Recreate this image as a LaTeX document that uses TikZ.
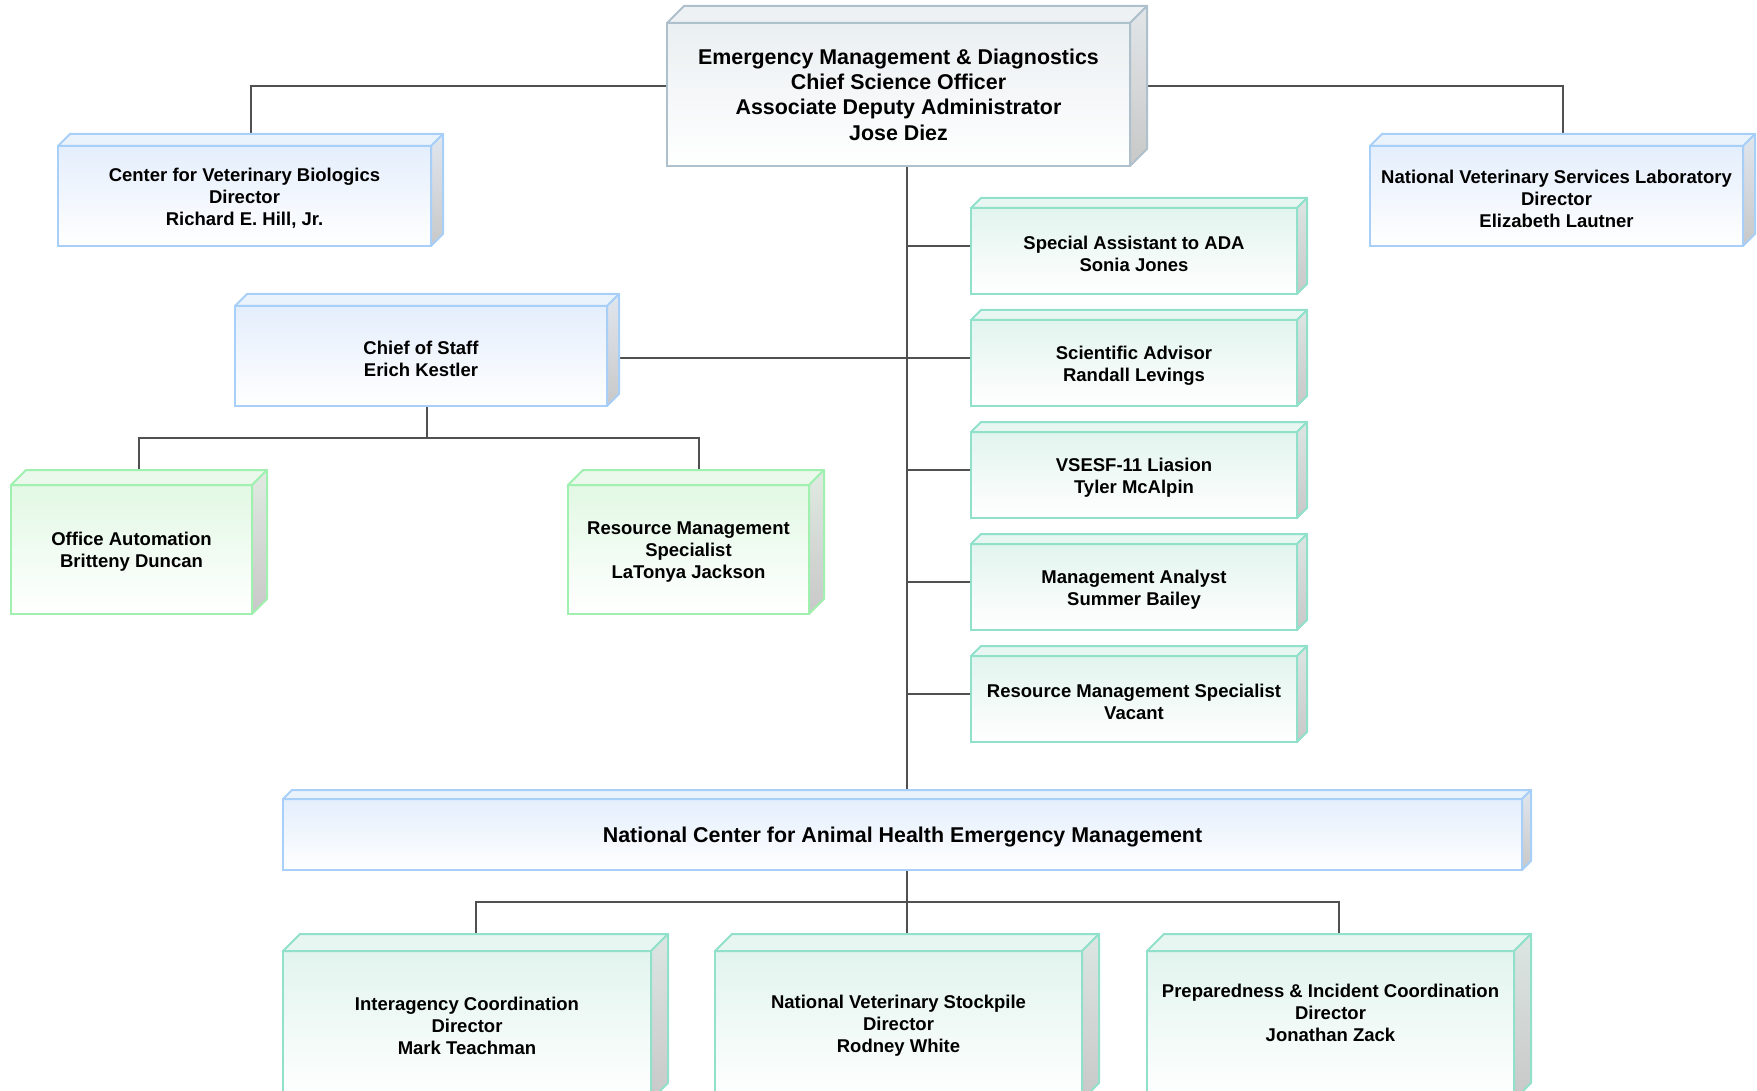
\documentclass[tikz,border=0pt]{standalone}
\usepackage{fontspec}
\setmainfont{Liberation Sans}
\usetikzlibrary{fit,calc}
\pgfdeclarelayer{bg}
\pgfsetlayers{bg,main}
\definecolor{gryB}{HTML}{AEC0CC}
\definecolor{gryF}{HTML}{EAEFF1}
\definecolor{gryT}{HTML}{EEF1F3}
\definecolor{gryS}{HTML}{E2E6E9}
\definecolor{bluB}{HTML}{A8CFF8}
\definecolor{bluF}{HTML}{E4EEFC}
\definecolor{bluT}{HTML}{EAF2FC}
\definecolor{bluS}{HTML}{E0E6EE}
\definecolor{grnB}{HTML}{A0F0B0}
\definecolor{grnF}{HTML}{E2F8E4}
\definecolor{grnT}{HTML}{EAF9EC}
\definecolor{grnS}{HTML}{E0EAE2}
\definecolor{teaB}{HTML}{90E0CA}
\definecolor{teaF}{HTML}{E2F4EE}
\definecolor{teaT}{HTML}{E8F6F2}
\definecolor{teaS}{HTML}{DCE6E2}
\definecolor{sideD}{HTML}{C8C8C8}
\definecolor{connC}{HTML}{505050}
\tikzset{
  txt/.style={align=center, font=\bfseries\fontsize{18.5}{22}\selectfont, text=black, inner sep=0pt},
  bigtxt/.style={font=\bfseries\fontsize{21.4}{25.4}\selectfont},
  lower/.style={yshift=-2.5pt},
  link/.style={draw=connC, line width=2pt}
}
% #1 name, #2 scheme, #3 x front-left, #4 y back-top, #5 x back-right, #6 y front-bottom, #7 depth, #8 text options, #9 text
\newcommand\cuboid[9]{%
  \node[fit={(#3,#4) (#5,#6)}, inner sep=0pt, outer sep=0pt] (#1) {};
  \shadedraw[draw=#2B, line width=2pt, top color=#2F, bottom color=white] (#3,{#4+#7}) rectangle ({#5-#7},#6);
  \filldraw[draw=#2B, line width=2pt, fill=#2T, line join=round] (#3,{#4+#7}) -- ({#3+#7},#4) -- (#5,#4) -- ({#5-#7},{#4+#7}) -- cycle;
  \shadedraw[draw=#2B, line width=2pt, top color=#2S, bottom color=sideD, line join=round] ({#5-#7},{#4+#7}) -- (#5,#4) -- (#5,{#6-#7}) -- ({#5-#7},#6) -- cycle;
  \node[txt, #8] (#1-t) at ({(#3+#5-#7)/2},{(#4+#7+#6)/2}) {#9};
}
\begin{document}
\begin{tikzpicture}[x=1pt,y=-1pt]
\useasboundingbox (0,0) rectangle (1757,1091);
\clip (0,0) rectangle (1757,1091);

\cuboid{ada}{gry}{667}{6}{1147}{166}{17}{bigtxt}{Emergency Management \& Diagnostics\\Chief Science Officer\\Associate Deputy Administrator\\Jose Diez}
\cuboid{cvb}{blu}{58}{134}{443}{246}{12}{lower}{Center for Veterinary Biologics\\Director\\Richard E. Hill, Jr.}
\cuboid{nvsl}{blu}{1370}{134}{1755}{246}{12}{lower}{National Veterinary Services Laboratory\\Director\\Elizabeth Lautner}
\cuboid{cos}{blu}{235}{294}{619}{406}{12}{lower}{Chief of Staff\\Erich Kestler}
\cuboid{oa}{grn}{11}{470}{267}{614}{15}{lower}{Office Automation\\Britteny Duncan}
\cuboid{rms}{grn}{568}{470}{824}{614}{15}{lower}{Resource Management\\Specialist\\LaTonya Jackson}
\cuboid{sa}{tea}{971}{198}{1307}{294}{10}{lower}{Special Assistant to ADA\\Sonia Jones}
\cuboid{sci}{tea}{971}{310}{1307}{406}{10}{lower}{Scientific Advisor\\Randall Levings}
\cuboid{vs}{tea}{971}{422}{1307}{518}{10}{lower}{VSESF-11 Liasion\\Tyler McAlpin}
\cuboid{ma}{tea}{971}{534}{1307}{630}{10}{lower}{Management Analyst\\Summer Bailey}
\cuboid{rm}{tea}{971}{646}{1307}{742}{10}{lower}{Resource Management Specialist\\Vacant}
\cuboid{ncahem}{blu}{283}{790}{1531}{870}{9}{bigtxt,lower}{National Center for Animal Health Emergency Management}
\cuboid{ic}{tea}{283}{934}{668}{1100}{17}{}{Interagency Coordination\\Director\\Mark Teachman}
\cuboid{nvs}{tea}{715}{934}{1099}{1100}{17}{}{National Veterinary Stockpile\\Director\\Rodney White}
\cuboid{pic}{tea}{1147}{934}{1531}{1100}{17}{yshift=12.5pt}{Preparedness \& Incident Coordination\\Director\\Jonathan Zack}

\begin{pgfonlayer}{bg}
  \coordinate (cbus) at ($(cos.south)+(0,32)$);
  \coordinate (nbus) at ($(ncahem.south)+(0,32)$);
  \coordinate (rmsin) at ($(rms)+(3,0)$);
  \draw[link] (ada) -- (nbus) -- (nvs);
  \draw[link] (ada) -| (cvb);
  \draw[link] (ada) -| (nvsl);
  \foreach \n in {sa,sci,vs,ma,rm} \draw[link] (ada |- \n) -- (\n);
  \draw[link] (sci) -- (sci -| cos.east);
  \draw[link] (cos) -- (cbus);
  \draw[link] (oa) |- (cbus) -| (rmsin);
  \draw[link] (ic) |- (nbus) -| (pic);
\end{pgfonlayer}
\end{tikzpicture}
\end{document}
